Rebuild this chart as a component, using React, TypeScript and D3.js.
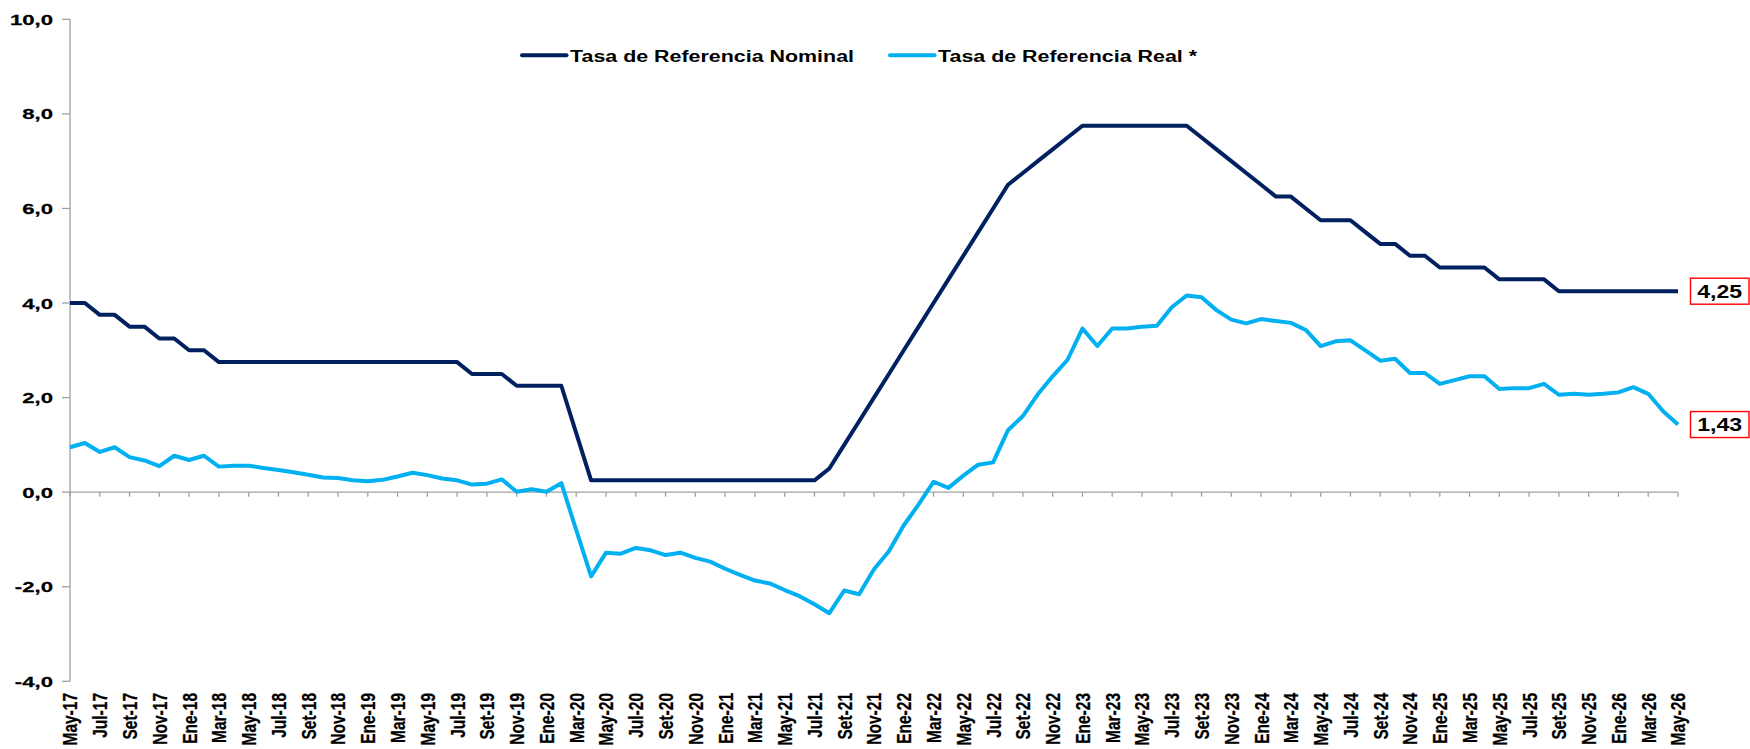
import React from "react";
import * as d3 from "d3";

const months: string[] = [
  "May-17","Jun-17","Jul-17","Ago-17","Set-17","Oct-17","Nov-17","Dic-17",
  "Ene-18","Feb-18","Mar-18","Abr-18","May-18","Jun-18","Jul-18","Ago-18","Set-18","Oct-18","Nov-18","Dic-18",
  "Ene-19","Feb-19","Mar-19","Abr-19","May-19","Jun-19","Jul-19","Ago-19","Set-19","Oct-19","Nov-19","Dic-19",
  "Ene-20","Feb-20","Mar-20","Abr-20","May-20","Jun-20","Jul-20","Ago-20","Set-20","Oct-20","Nov-20","Dic-20",
  "Ene-21","Feb-21","Mar-21","Abr-21","May-21","Jun-21","Jul-21","Ago-21","Set-21","Oct-21","Nov-21","Dic-21",
  "Ene-22","Feb-22","Mar-22","Abr-22","May-22","Jun-22","Jul-22","Ago-22","Set-22","Oct-22","Nov-22","Dic-22",
  "Ene-23","Feb-23","Mar-23","Abr-23","May-23","Jun-23","Jul-23","Ago-23","Set-23","Oct-23","Nov-23","Dic-23",
  "Ene-24","Feb-24","Mar-24","Abr-24","May-24","Jun-24","Jul-24","Ago-24","Set-24","Oct-24","Nov-24","Dic-24",
  "Ene-25","Feb-25","Mar-25","Abr-25","May-25","Jun-25","Jul-25","Ago-25","Set-25","Oct-25","Nov-25","Dic-25",
  "Ene-26","Feb-26","Mar-26","Abr-26","May-26",
];

const nominal: number[] = [
  4.00, 4.00, 3.75, 3.75, 3.50, 3.50, 3.25, 3.25,
  3.00, 3.00, 2.75, 2.75, 2.75, 2.75, 2.75, 2.75, 2.75, 2.75, 2.75, 2.75,
  2.75, 2.75, 2.75, 2.75, 2.75, 2.75, 2.75, 2.50, 2.50, 2.50, 2.25, 2.25,
  2.25, 2.25, 1.25, 0.25, 0.25, 0.25, 0.25, 0.25, 0.25, 0.25, 0.25, 0.25,
  0.25, 0.25, 0.25, 0.25, 0.25, 0.25, 0.25, 0.50, 1.00, 1.50, 2.00, 2.50,
  3.00, 3.50, 4.00, 4.50, 5.00, 5.50, 6.00, 6.50, 6.75, 7.00, 7.25, 7.50,
  7.75, 7.75, 7.75, 7.75, 7.75, 7.75, 7.75, 7.75, 7.50, 7.25, 7.00, 6.75,
  6.50, 6.25, 6.25, 6.00, 5.75, 5.75, 5.75, 5.50, 5.25, 5.25, 5.00, 5.00,
  4.75, 4.75, 4.75, 4.75, 4.50, 4.50, 4.50, 4.50, 4.25, 4.25, 4.25, 4.25,
  4.25, 4.25, 4.25, 4.25, 4.25,
];

const real: number[] = [
  0.95, 1.04, 0.85, 0.95, 0.74, 0.67, 0.55, 0.77,
  0.68, 0.77, 0.54, 0.56, 0.56, 0.51, 0.47, 0.42, 0.37, 0.31, 0.30, 0.25,
  0.23, 0.26, 0.33, 0.41, 0.36, 0.29, 0.25, 0.16, 0.18, 0.27, 0.01, 0.06,
  0.01, 0.19, -0.80, -1.78, -1.28, -1.30, -1.18, -1.23, -1.33, -1.28, -1.39, -1.47,
  -1.62, -1.75, -1.87, -1.93, -2.07, -2.20, -2.37, -2.56, -2.08, -2.16, -1.63, -1.25,
  -0.70, -0.26, 0.22, 0.09, 0.35, 0.58, 0.63, 1.31, 1.61, 2.07, 2.45, 2.80,
  3.46, 3.09, 3.46, 3.46, 3.50, 3.52, 3.91, 4.16, 4.12, 3.85, 3.65, 3.57,
  3.66, 3.62, 3.58, 3.43, 3.09, 3.19, 3.21, 3.00, 2.78, 2.82, 2.52, 2.52,
  2.29, 2.37, 2.45, 2.45, 2.18, 2.20, 2.20, 2.29, 2.06, 2.08, 2.06, 2.08,
  2.11, 2.22, 2.08, 1.71, 1.43,
];

const yTicks: number[] = [-4, -2, 0, 2, 4, 6, 8, 10];
const seriesNames: string[] = ["Tasa de Referencia Nominal", "Tasa de Referencia Real *"];
const endLabels: string[] = ["4,25", "1,43"];

const W = 1750;
const H = 749;
const FONT = "'Liberation Sans', Arial, sans-serif";
const NAVY = "#002060";
const CYAN = "#00B0F0";
const AXIS = "#a0a0a0";

export default function App() {
  const x = d3.scaleLinear().domain([0, months.length - 1]).range([70, 1678]);
  const y = d3.scaleLinear().domain([-4, 10]).range([681.3, 19.3]);

  const line = d3
    .line<number>()
    .x((_, i) => x(i))
    .y((d) => y(d));

  const tickIdx = months.map((_, i) => i).filter((i) => i % 2 === 0);
  const fmt = (v: number) => v.toFixed(1).replace(".", ",");

  const lastN = nominal[nominal.length - 1];
  const lastR = real[real.length - 1];

  return (
    <svg
      width={W}
      height={H}
      style={{ position: "absolute", left: 0, top: 0, background: "#fff" }}
      fontFamily={FONT}
      fontWeight="bold"
    >
      {/* y axis */}
      <line x1={70} x2={70} y1={y(10)} y2={y(-4)} stroke={AXIS} strokeWidth={1.3} />
      {yTicks.map((t) => (
        <g key={"yt" + t}>
          <line x1={62} x2={70} y1={y(t)} y2={y(t)} stroke={AXIS} strokeWidth={1.3} />
          <text
            transform={`translate(53,${y(t) + 5.6}) scale(1.43,1)`}
            textAnchor="end"
            fontSize={15.5}
            fill="#000"
            stroke="#000"
            strokeWidth={0.25}
          >
            {fmt(t)}
          </text>
        </g>
      ))}

      {/* x axis at zero */}
      <line x1={70} x2={1678} y1={y(0)} y2={y(0)} stroke={AXIS} strokeWidth={1.3} />
      {tickIdx.map((i) => (
        <g key={"xt" + i}>
          <line x1={x(i)} x2={x(i)} y1={y(0)} y2={y(0) + 4.5} stroke={AXIS} strokeWidth={1.3} />
          <text
            transform={`translate(${x(i)},693) rotate(-90) scale(1,1.33)`}
            textAnchor="end"
            dy="0.36em"
            fontSize={15.5}
            fill="#000"
            stroke="#000"
            strokeWidth={0.2}
          >
            {months[i]}
          </text>
        </g>
      ))}

      {/* series */}
      <path d={line(nominal) || ""} fill="none" stroke={NAVY} strokeWidth={4} strokeLinejoin="round" />
      <path d={line(real) || ""} fill="none" stroke={CYAN} strokeWidth={4} strokeLinejoin="round" />

      {/* legend */}
      <line x1={522} x2={566.5} y1={55.3} y2={55.3} stroke={NAVY} strokeWidth={4} strokeLinecap="round" />
      <text transform="translate(570,61.7) scale(1.26,1)" fontSize={17} fill="#000">
        {seriesNames[0]}
      </text>
      <line x1={890} x2={934.5} y1={55.3} y2={55.3} stroke={CYAN} strokeWidth={4} strokeLinecap="round" />
      <text transform="translate(938,61.7) scale(1.26,1)" fontSize={17} fill="#000">
        {seriesNames[1]}
      </text>

      {/* end labels */}
      {[lastN, lastR].map((v, k) => (
        <g key={"el" + k}>
          <rect
            x={1690.5}
            y={y(v) - 13}
            width={58.5}
            height={26}
            fill="#fff"
            stroke="#ff0000"
            strokeWidth={1.4}
          />
          <text
            transform={`translate(1719.7,${y(v) + 6.7}) scale(1.25,1)`}
            textAnchor="middle"
            fontSize={18.5}
            fill="#000"
          >
            {endLabels[k]}
          </text>
        </g>
      ))}
    </svg>
  );
}
